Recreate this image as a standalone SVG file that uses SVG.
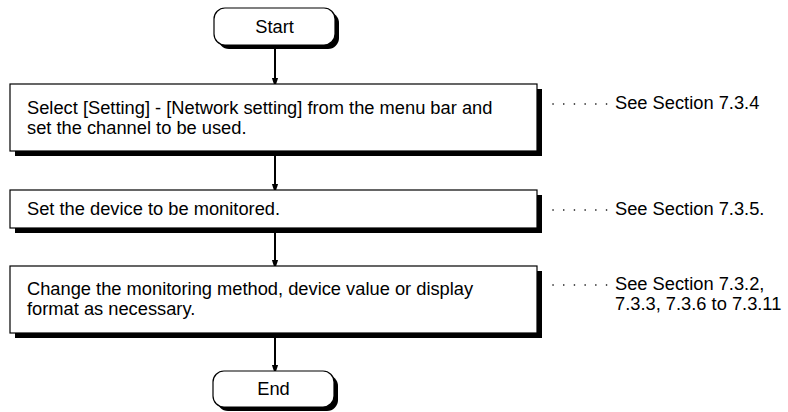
<svg xmlns="http://www.w3.org/2000/svg" width="788" height="412" viewBox="0 0 788 412">
<defs>
<style>
.t{font-family:"Liberation Sans",Arial,sans-serif;font-size:18.3px;fill:#000}
.box{fill:#fff;stroke:#000;stroke-width:1.2}
.sh{fill:#000}
.arr{stroke:#000;stroke-width:2;fill:none}
.lead{stroke:#000;stroke-width:1.6;stroke-dasharray:0.1 10.6;stroke-linecap:round;fill:none}
</style>
<marker id="ah" markerWidth="10" markerHeight="14" refX="9" refY="4.5" orient="auto" markerUnits="userSpaceOnUse" viewBox="0 0 14 9">
<path d="M0,0 L14,4.5 L0,9 Z" fill="#000"/>
</marker>
</defs>
<rect width="788" height="412" fill="#fff"/>
<g id="connectors">
<line class="arr" x1="275" y1="45" x2="275" y2="84" marker-end="url(#ah)"/>
<line class="arr" x1="275" y1="151" x2="275" y2="190" marker-end="url(#ah)"/>
<line class="arr" x1="275" y1="228" x2="275" y2="266" marker-end="url(#ah)"/>
<line class="arr" x1="275" y1="333" x2="275" y2="371" marker-end="url(#ah)"/>
<line class="lead" x1="553" y1="104" x2="607" y2="104"/>
<line class="lead" x1="553" y1="210" x2="607" y2="210"/>
<line class="lead" x1="553" y1="285" x2="607" y2="285"/>
</g>
<g id="start">
<rect class="sh" x="218" y="12" width="121" height="37" rx="11"/>
<rect class="box" x="214" y="8" width="121" height="37" rx="11"/>
<text class="t" x="274.5" y="32.5" text-anchor="middle">Start</text>
</g>
<g id="step1">
<rect class="sh" x="15" y="89" width="527" height="67"/>
<rect class="box" x="10" y="84" width="527" height="67"/>
<text class="t" x="27" y="113.5">Select [Setting] - [Network setting] from the menu bar and</text>
<text class="t" x="27" y="134">set the channel to be used.</text>
</g>
<g id="step2">
<rect class="sh" x="15" y="195" width="527" height="38"/>
<rect class="box" x="10" y="190" width="527" height="38"/>
<text class="t" x="27" y="215">Set the device to be monitored.</text>
</g>
<g id="step3">
<rect class="sh" x="15" y="271" width="527" height="67"/>
<rect class="box" x="10" y="266" width="527" height="67"/>
<text class="t" x="27" y="294.5">Change the monitoring method, device value or display</text>
<text class="t" x="27" y="315">format as necessary.</text>
</g>
<g id="end">
<rect class="sh" x="217" y="375" width="121" height="36" rx="11"/>
<rect class="box" x="213" y="371" width="121" height="36" rx="11"/>
<text class="t" x="273.5" y="395" text-anchor="middle">End</text>
</g>
<g id="notes">
<text class="t" x="615" y="109">See Section 7.3.4</text>
<text class="t" x="615" y="215">See Section 7.3.5.</text>
<text class="t" x="615" y="289.5">See Section 7.3.2,</text>
<text class="t" x="615" y="310">7.3.3, 7.3.6 to 7.3.11</text>
</g>
</svg>
